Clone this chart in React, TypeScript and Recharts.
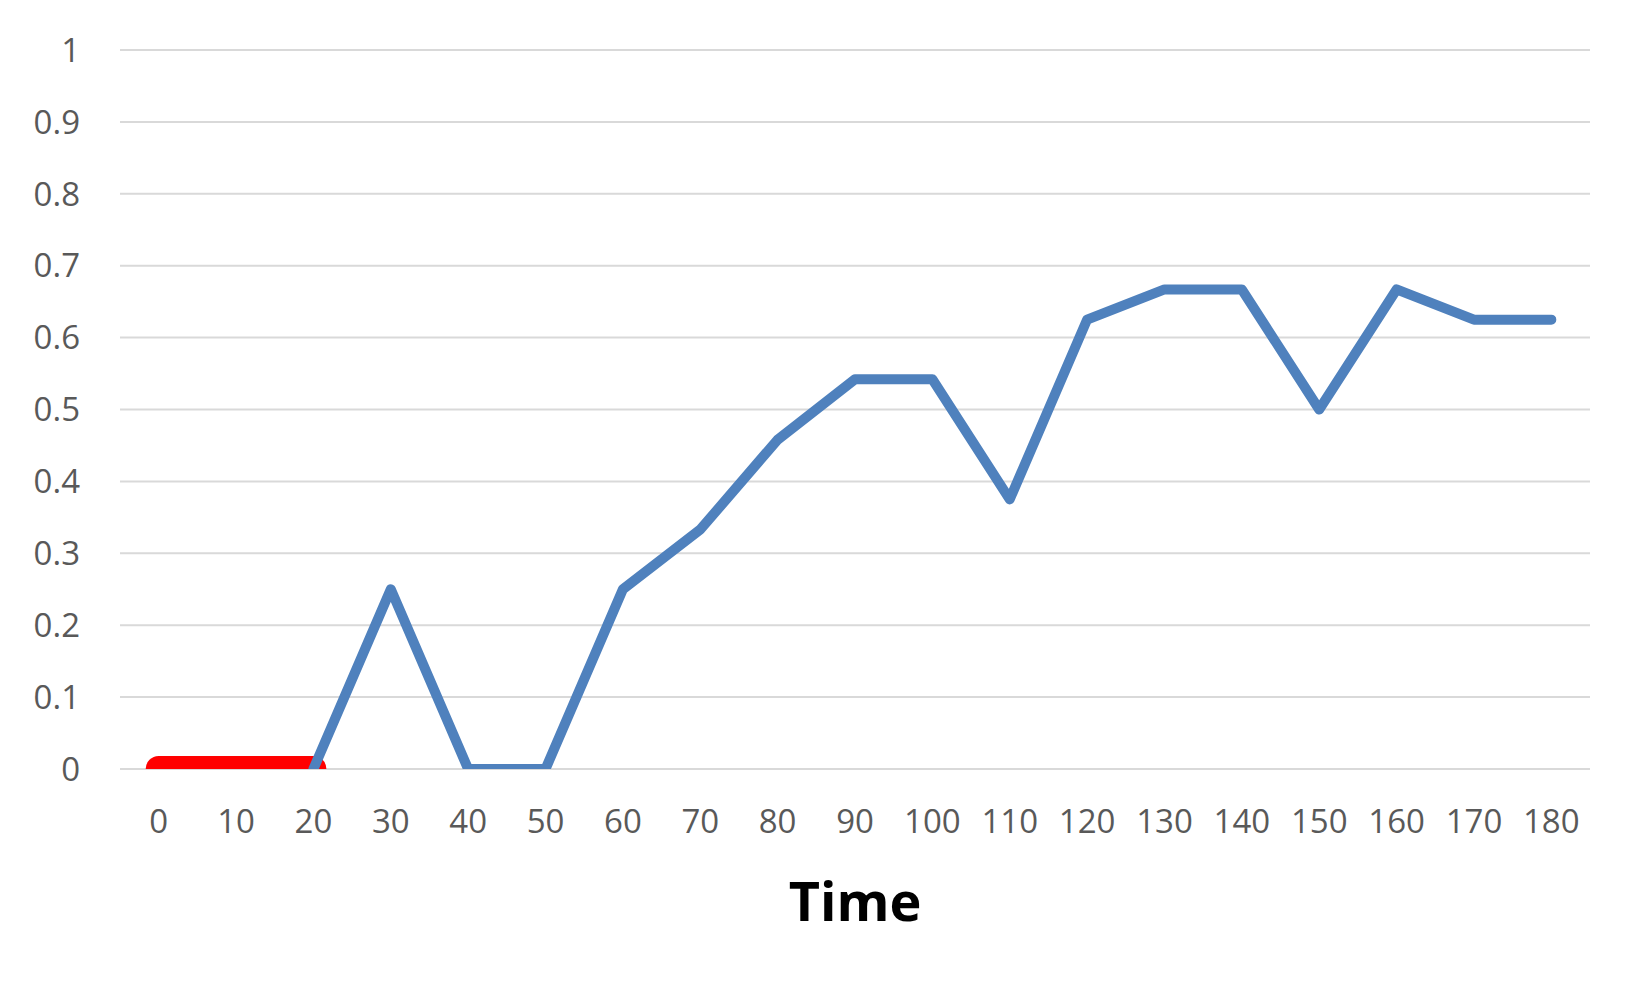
import { LineChart, Line, XAxis, YAxis, CartesianGrid } from "recharts"

// time points (x axis)
const times = [0, 10, 20, 30, 40, 50, 60, 70, 80, 90, 100, 110, 120, 130, 140, 150, 160, 170, 180]
// red segment only covers the start
const redValues: (number | null)[] = [0, 0, 0]
const blueValues: (number | null)[] = [
  null, null, 0, 0.25, 0, 0, 0.25, 0.333, 0.458, 0.542, 0.542, 0.375, 0.625, 0.667, 0.667, 0.5, 0.667, 0.625, 0.625,
]
const yTicks = [0, 0.1, 0.2, 0.3, 0.4, 0.5, 0.6, 0.7, 0.8, 0.9, 1]

const data = times.map((t, i) => ({
  t,
  red: i < redValues.length ? redValues[i] : null,
  blue: blueValues[i],
}))

const font = "'Open Sans', 'Noto Sans', sans-serif"

export default function App() {
  return (
    <div style={{ position: "absolute", left: 0, top: 0, width: 1641, height: 994, background: "#fff" }}>
      <LineChart width={1641} height={994} data={data} margin={{ top: 50, right: 51, left: 0, bottom: 65 }}>
        <CartesianGrid vertical={false} stroke="#d9d9d9" strokeWidth={2} />
        <XAxis
          dataKey="t"
          type="number"
          domain={[-5, 185]}
          ticks={times}
          interval={0}
          axisLine={false}
          tickLine={false}
          tickSize={0}
          tickMargin={41}
          height={160}
          tick={{ fill: "#595959", fontSize: 33, fontFamily: font }}
          label={{
            value: "Time",
            position: "insideBottom",
            offset: 8,
            style: { fill: "#000", fontSize: 54, fontWeight: 700, fontFamily: font },
          }}
        />
        <YAxis
          type="number"
          domain={[0, 1]}
          ticks={yTicks}
          allowDataOverflow
          axisLine={false}
          tickLine={false}
          tickSize={0}
          tickMargin={40}
          width={120}
          tick={{ fill: "#595959", fontSize: 33, fontFamily: font }}
        />
        <Line
          dataKey="red"
          stroke="#ff0000"
          strokeWidth={26}
          strokeLinecap="round"
          dot={false}
          connectNulls={false}
          isAnimationActive={false}
        />
        <Line
          dataKey="blue"
          stroke="#4f81bd"
          strokeWidth={10}
          strokeLinecap="round"
          strokeLinejoin="round"
          dot={false}
          connectNulls={false}
          isAnimationActive={false}
        />
      </LineChart>
    </div>
  )
}
